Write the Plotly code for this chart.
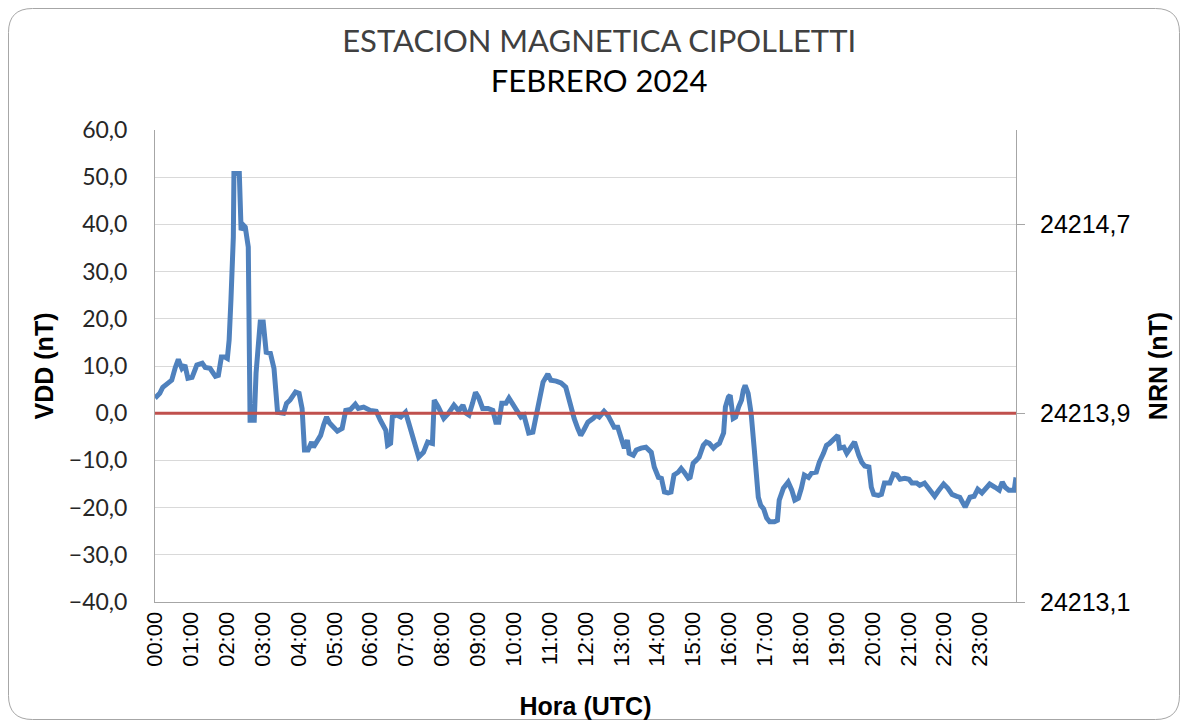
import plotly.graph_objects as go

# ---- data (minutes after 00:00 UTC, VDD in nT) ----
minutes = [0, 8, 13, 22, 28, 34, 39, 45, 50, 55, 62, 70, 79, 84, 92, 101, 106, 111, 117, 121,
           124, 127, 131, 132, 141, 144, 148, 151, 156, 159, 166, 169, 176, 181, 186, 193, 199,
           205, 215, 220, 226, 235, 241, 246, 250, 256, 262, 265, 272, 277, 282, 287, 292, 298,
           305, 313, 319, 327, 335, 340, 349, 360, 370, 377, 386, 389, 394, 397, 404, 411, 419,
           424, 433, 441, 449, 456, 464, 467, 474, 483, 491, 500, 508, 515, 520, 525, 531, 536,
           541, 548, 557, 565, 570, 575, 580, 587, 592, 598, 607, 612, 617, 625, 632, 637, 642,
           649, 657, 662, 671, 679, 687, 692, 701, 707, 712, 717, 724, 733, 738, 743, 751, 758,
           763, 768, 774, 780, 785, 790, 793, 800, 805, 813, 821, 830, 835, 842, 847, 852, 858,
           863, 868, 875, 880, 885, 892, 895, 900, 905, 910, 917, 922, 927, 934, 939, 944, 951,
           954, 959, 962, 967, 971, 976, 981, 984, 987, 992, 997, 1002, 1006, 1009, 1013, 1018,
           1023, 1028, 1036, 1041, 1044, 1051, 1059, 1065, 1070, 1076, 1081, 1086, 1093, 1098,
           1106, 1111, 1118, 1123, 1128, 1135, 1142, 1145, 1152, 1157, 1165, 1170, 1177, 1182,
           1187, 1194, 1198, 1202, 1210, 1215, 1220, 1229, 1235, 1241, 1246, 1254, 1261, 1266,
           1274, 1279, 1287, 1294, 1304, 1310, 1319, 1326, 1333, 1341, 1346, 1355, 1358, 1363,
           1370, 1376, 1383, 1390, 1396, 1405, 1412, 1417, 1422, 1428, 1437, 1440]
vdd = [3.2, 4.2, 5.5, 6.5, 7.0, 9.7, 11.4, 9.5, 10.2, 7.4, 7.6, 10.2, 10.6, 9.7, 9.5, 7.8, 8.0, 11.9, 11.9, 11.6,
       15.5, 24.0, 37.3, 50.8, 50.8, 38.8, 39.8, 39.4, 35.2, -1.5, -1.5, 8.5, 19.3, 19.3, 12.9, 12.7, 9.5,
       0.2, 0.0, 2.1, 2.8, 4.5, 4.2, 1.0, -7.8, -7.8, -6.1, -7.2, -5.7, -4.7, -2.5, -0.8, -2.1, -3.0,
       -3.8, -3.2, 0.6, 0.8, 1.9, 1.0, 1.3, 0.6, 0.4, -1.5, -3.6, -6.8, -6.4, -0.8, -0.4, -0.8, 0.2,
       -1.9, -5.7, -9.3, -8.3, -6.1, -6.4, 2.8, 1.3, -1.1, 0.0, 1.7, 0.5, 1.7, 0.0, -0.4, 2.1, 4.4,
       3.4, 1.0, 1.0, 0.6, -1.9, -1.9, 2.1, 2.1, 3.2, 2.1, 0.2, -0.8, -0.4, -4.2, -4.0, -1.1, 2.8,
       6.6, 8.3, 7.0, 6.8, 6.4, 5.5, 2.8, -1.1, -3.2, -4.7, -3.6, -1.9, -1.1, -0.4, -0.8, 0.4, -0.6,
       -1.8, -3.0, -3.0, -5.0, -7.4, -5.7, -8.5, -8.9, -7.8, -7.4, -7.2, -8.3, -11.4, -13.6, -13.8, -16.7, -16.9,
       -16.7, -13.1, -12.5, -11.7, -12.5, -13.8, -13.6, -10.6, -10.0, -9.3, -6.8, -6.1, -6.4, -7.4, -6.8, -6.4, -4.2,
       1.3, 3.4, 3.8, -1.1, -0.8, 1.3, 2.8, 4.9, 5.9, 4.2, 0.0, -7.2, -13.0, -17.8, -19.5, -20.3,
       -22.2, -23.0, -23.0, -22.7, -18.4, -15.9, -14.6, -16.3, -18.4, -18.0, -15.9, -13.1, -13.6, -12.7,
       -12.5, -10.4, -8.5, -6.8, -6.4, -5.7, -4.7, -7.4, -7.2, -8.5, -6.8, -6.1, -8.9, -10.4,
       -11.2, -11.4, -15.7, -17.2, -17.4, -17.2, -14.8, -14.8, -12.9, -13.1, -14.0, -13.8, -14.0, -14.8,
       -14.8, -15.3, -14.8, -15.9, -17.6, -16.5, -15.0, -15.9, -17.2, -17.6, -17.8, -19.9, -18.9, -17.8,
       -17.6, -16.1, -16.9, -15.9, -15.0, -15.7, -16.3, -14.6, -15.7, -16.3, -16.3, -13.6]

nrn_minutes = [0, 1440]
nrn = [24213.9, 24213.9]

hour_ticks = list(range(0, 1440, 60))
hour_labels = ["%02d:00" % h for h in range(24)]
left_ticks = [60, 50, 40, 30, 20, 10, 0, -10, -20, -30, -40]
right_ticks = [24213.1, 24213.9, 24214.7]

# ---- layout geometry (the page adds an 8px body margin) ----
OFF = 8
W, H = 1188 - OFF, 725 - OFF
L, R, T, B = 155 - OFF, 1016 - OFF, 130 - OFF, 602 - OFF


def px(x):
    return (x - OFF - L) / (R - L)


def py(y):
    return (B - (y - OFF)) / (B - T)


def rounded_rect(x0, y0, x1, y1, r):
    return ("M %f,%f L %f,%f Q %f,%f %f,%f L %f,%f Q %f,%f %f,%f L %f,%f Q %f,%f %f,%f "
            "L %f,%f Q %f,%f %f,%f Z") % (
        px(x0 + r), py(y0), px(x1 - r), py(y0), px(x1), py(y0), px(x1), py(y0 + r),
        px(x1), py(y1 - r), px(x1), py(y1), px(x1 - r), py(y1),
        px(x0 + r), py(y1), px(x0), py(y1), px(x0), py(y1 - r),
        px(x0), py(y0 + r), px(x0), py(y0), px(x0 + r), py(y0))


fig = go.Figure()
fig.add_trace(go.Scatter(x=minutes, y=vdd, mode="lines", name="VDD",
                         line=dict(color="#4F81BD", width=5), hoverinfo="skip"))
fig.add_trace(go.Scatter(x=nrn_minutes, y=nrn, mode="lines", name="NRN", yaxis="y2",
                         line=dict(color="#C0504D", width=3), hoverinfo="skip"))

fig.update_layout(
    width=W, height=H,
    margin=dict(l=L, r=W - R, t=T, b=H - B, autoexpand=False),
    paper_bgcolor="white", plot_bgcolor="white",
    separators=",.",
    showlegend=False,
    title=dict(
        text="<span style='color:#404040'>ESTACION MAGNETICA CIPOLLETTI</span><br>FEBRERO 2024",
        x=0.501, xanchor="center", xref="container",
        y=1 - 44 / H, yanchor="top", yref="container",
        font=dict(family="Lato", size=31, color="#000000")),
    xaxis=dict(range=[0, 1440], tickvals=hour_ticks, ticktext=hour_labels, tickangle=-90,
               showgrid=False, zeroline=False, showline=True, linecolor="#A6A6A6", linewidth=1,
               ticks="", tickfont=dict(family="Liberation Sans", size=22, color="#000000"),
               title=dict(text="<b>Hora (UTC)</b>", standoff=31,
                          font=dict(family="Liberation Sans", size=25, color="#000000"))),
    yaxis=dict(range=[-40, 60], tickvals=left_ticks, tickformat=".1f",
               showgrid=True, gridcolor="#D9D9D9", gridwidth=1, zeroline=False,
               showline=True, linecolor="#A6A6A6", linewidth=1, ticks="",
               ticklabelstandoff=22,
               tickfont=dict(family="Lato", size=23, color="#262626"),
               title=dict(text="<b>VDD (nT)</b>", standoff=8,
                          font=dict(family="Liberation Sans", size=25, color="#000000"))),
    yaxis2=dict(range=[24213.1, 24215.1], tickvals=right_ticks, tickformat=".1f",
                overlaying="y", side="right", anchor="x",
                showgrid=False, zeroline=False, showline=True, linecolor="#A6A6A6", linewidth=1,
                ticks="outside", ticklen=8, tickcolor="#A6A6A6", ticklabelstandoff=10,
                tickfont=dict(family="Liberation Sans", size=25, color="#000000"),
                title=dict(text="<b>NRN (nT)</b>", standoff=20,
                           font=dict(family="Liberation Sans", size=25, color="#000000"))),
    shapes=[dict(type="path", xref="paper", yref="paper",
                 path=rounded_rect(8.5, 8.5, 1179.5, 719.5, 24),
                 line=dict(color="#A6A6A6", width=1), fillcolor="rgba(0,0,0,0)", layer="below")],
)

fig.write_html("out.html")
